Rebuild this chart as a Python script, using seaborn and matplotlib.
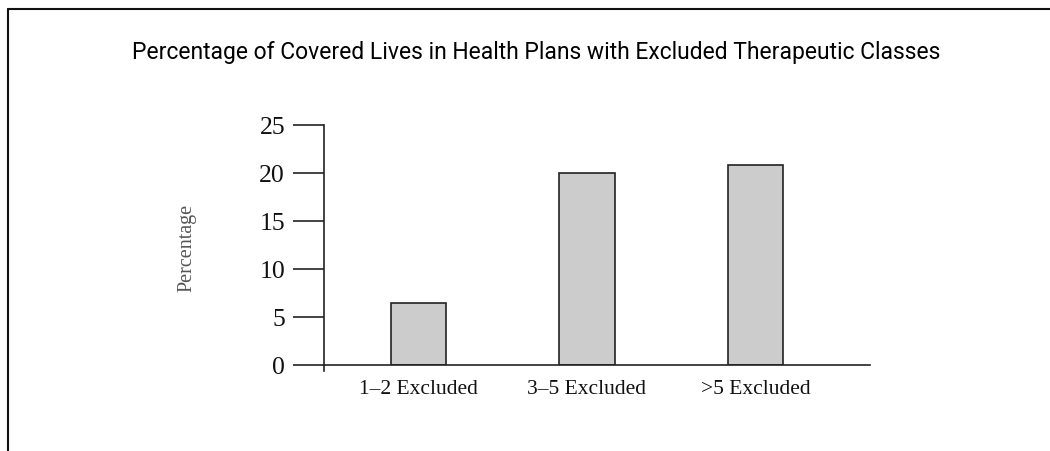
import matplotlib
matplotlib.use("Agg")
import matplotlib.pyplot as plt
from matplotlib.lines import Line2D
import seaborn as sns

categories = ["1\u20132 Excluded", "3\u20135 Excluded", ">5 Excluded"]
percent = [6.5, 20.0, 20.8]
yticks = [0, 5, 10, 15, 20, 25]

sns.set_style("white")
plt.rcParams['font.family'] = ['Liberation Serif', 'DejaVu Serif']

fig = plt.figure(figsize=(10.5, 4.52), dpi=100)
ax = fig.add_axes([324 / 1050, 1 - 366 / 452, (870 - 324) / 1050, (366 - 126) / 452])

sns.barplot(x=categories, y=percent, ax=ax, color="#cccccc", saturation=1,
            width=0.33, edgecolor="#222222", linewidth=1.2)

ax.set_xlim(-0.56, 2.68)
ax.set_ylim(0, 25)
ax.set_yticks(yticks)
ax.set_yticklabels([str(t) for t in yticks], fontsize=18.5, color="#111111")
ax.tick_params(axis="y", length=22, width=1.2, color="#222222", pad=6, left=True)
ax.tick_params(axis="x", length=0, pad=10, labelsize=15.5)
for lbl in ax.get_xticklabels():
    lbl.set_color("#111111")
for side in ["top", "right"]:
    ax.spines[side].set_visible(False)
ax.spines["left"].set_color("#222222")
ax.spines["bottom"].set_color("#222222")
ax.spines["left"].set_linewidth(1.2)
ax.spines["bottom"].set_linewidth(1.2)
ax.spines["left"].set_bounds(-0.6, 25)
ax.set_ylabel("")
ax.set_xlabel("")

fig.text(187 / 1050, 1 - 248 / 452, "Percentage", rotation=90, ha="center", va="center",
         fontsize=14.5, color="#555555")

fig.text(536 / 1050, 1 - 52 / 452,
         "Percentage of Covered Lives in Health Plans with Excluded Therapeutic Classes",
         ha="center", va="center", fontsize=16.5, color="#000000",
         family=["Roboto", "DejaVu Sans"])

# frame: top and left edges only
fig.add_artist(Line2D([8 / 1050, 8 / 1050], [0, 1 - 10 / 452], transform=fig.transFigure,
                      color="#111111", linewidth=1.5))
fig.add_artist(Line2D([8 / 1050, 1], [1 - 10 / 452, 1 - 10 / 452], transform=fig.transFigure,
                      color="#111111", linewidth=1.5))

fig.savefig("out.png", dpi=100)
